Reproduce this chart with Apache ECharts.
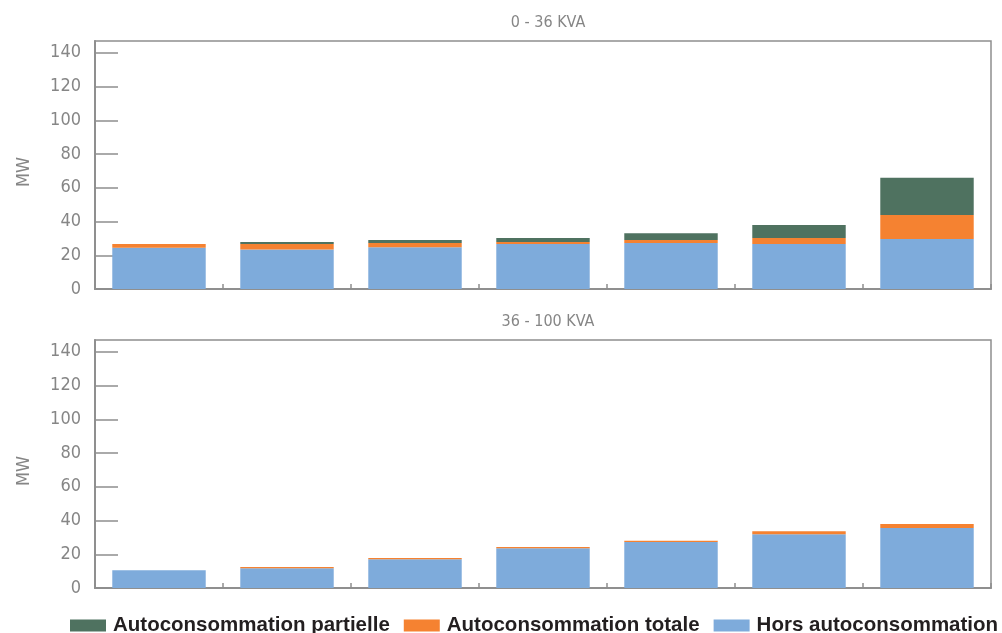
<!DOCTYPE html>
<html>
<head>
<meta charset="utf-8">
<script src="https://cdn.jsdelivr.net/npm/echarts@6/dist/echarts.min.js"></script>
<style>
html,body{margin:0;padding:0;background:#fff;}
#c{width:1002px;height:633px;}
</style>
</head>
<body>
<div id="c"></div>
<script>
const categories = ['1', '2', '3', '4', '5', '6', '7'];
const yTicks = [0, 20, 40, 60, 80, 100, 120, 140];
const panelTitles = ['0 - 36 KVA', '36 - 100 KVA'];
const seriesNames = ['Autoconsommation partielle', 'Autoconsommation totale', 'Hors autoconsommation'];

const top_hors = [24.4, 23.4, 24.8, 26.6, 27.2, 26.6, 29.6];
const top_totale = [2.2, 3.2, 2.4, 1.2, 1.8, 3.6, 14.2];
const top_partielle = [0, 1.2, 1.8, 2.4, 4.1, 7.7, 22.1];

const bot_hors = [10.5, 11.7, 17.1, 23.6, 27.3, 31.9, 35.5];
const bot_totale = [0, 0.7, 0.7, 0.7, 0.7, 1.8, 2.4];
const bot_partielle = [0, 0, 0, 0, 0, 0, 0];

const colors = {
  'Autoconsommation partielle': '#4f7260',
  'Autoconsommation totale': '#f58231',
  'Hors autoconsommation': '#7eabdb'
};

const condFont = "'Liberation Sans Narrow', 'DejaVu Sans Condensed', sans-serif";
const gray = '#868686';
const lineGray = '#8f8f8f';

function xAxisFor(gi) {
  return {
    type: 'category', gridIndex: gi, data: categories, boundaryGap: true,
    axisLine: { lineStyle: { color: lineGray, width: 2 } },
    axisTick: { show: true, inside: true, length: 5, alignWithLabel: false, lineStyle: { color: lineGray, width: 1.5 } },
    axisLabel: { show: false }
  };
}
function yAxisFor(gi) {
  return {
    type: 'value', gridIndex: gi, min: 0, max: 147, interval: yTicks[1] - yTicks[0],
    name: 'MW', nameLocation: 'middle', nameGap: 62, nameRotate: 90,
    nameTextStyle: { color: gray, fontFamily: condFont, fontSize: 18, padding: [0, 14, 0, 0] },
    axisLine: { show: true, lineStyle: { color: lineGray, width: 2 } },
    axisTick: { show: true, inside: true, length: 23, lineStyle: { color: lineGray, width: 1.5 } },
    axisLabel: { color: gray, fontFamily: condFont, fontSize: 18, margin: 14, showMaxLabel: false },
    splitLine: { show: false }
  };
}
function seriesFor(gi, hors, totale, partielle) {
  const mk = (name, data) => ({
    name, type: 'bar', stack: 's' + gi, xAxisIndex: gi, yAxisIndex: gi, data,
    barCategoryGap: '27%', itemStyle: { color: colors[name] }, animation: false
  });
  return [
    mk('Hors autoconsommation', hors),
    mk('Autoconsommation totale', totale),
    mk('Autoconsommation partielle', partielle)
  ];
}

const chart = echarts.init(document.getElementById('c'), null, { renderer: 'canvas' });
chart.setOption({
  animation: false,
  title: [
    { text: panelTitles[0], left: 543, top: 10, textAlign: 'center',
      textStyle: { color: gray, fontFamily: condFont, fontSize: 16, fontWeight: 'normal' } },
    { text: panelTitles[1], left: 543, top: 309, textAlign: 'center',
      textStyle: { color: gray, fontFamily: condFont, fontSize: 16, fontWeight: 'normal' } }
  ],
  grid: [
    { left: 95, right: 11, top: 41, height: 248, show: true, borderColor: lineGray, borderWidth: 1.5, backgroundColor: 'transparent' },
    { left: 95, right: 11, top: 340, height: 248, show: true, borderColor: lineGray, borderWidth: 1.5, backgroundColor: 'transparent' }
  ],
  legend: {
    data: seriesNames, left: 70, top: 615, itemWidth: 36, itemHeight: 12, itemGap: 14,
    icon: 'rect', padding: 0,
    textStyle: { color: '#231f20', fontFamily: "'Liberation Sans', Arial, sans-serif", fontWeight: 'bold', fontSize: 20.5, padding: [0, 0, 0, 2] }
  },
  xAxis: [xAxisFor(0), xAxisFor(1)],
  yAxis: [yAxisFor(0), yAxisFor(1)],
  series: [
    ...seriesFor(0, top_hors, top_totale, top_partielle),
    ...seriesFor(1, bot_hors, bot_totale, bot_partielle)
  ]
});
</script>
</body>
</html>
